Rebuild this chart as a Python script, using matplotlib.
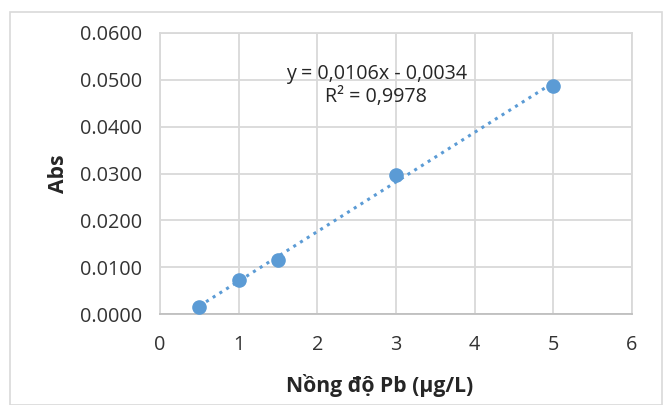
import numpy as np
import matplotlib
matplotlib.use("Agg")
import matplotlib.pyplot as plt
from matplotlib.patches import Rectangle

# Data
conc = [0.5, 1.0, 1.5, 3.0, 5.0]
absorb = [0.0014, 0.0073, 0.0115, 0.0297, 0.0487]
xticks = [0, 1, 2, 3, 4, 5, 6]
yticks = [0.0, 0.01, 0.02, 0.03, 0.04, 0.05, 0.06]
eq_text = "y = 0,0106x - 0,0034"
r2_text = "R² = 0,9978"
xlabel = "Nồng độ Pb (µg/L)"
ylabel = "Abs"

plt.rcParams['font.family'] = ['Open Sans', 'DejaVu Sans']
blue = '#5B9BD5'
grid = '#D9D9D9'

fig = plt.figure(figsize=(6.7, 4.05), dpi=100)
fig.patches.append(Rectangle((10/670, 0.0), 652/670, 1 - 12/405, transform=fig.transFigure,
                             fill=False, edgecolor=grid, linewidth=1.2))
ax = fig.add_axes([160/670, 1 - 314/405, 472/670, 281/405])

ax.set_xlim(0, 6)
ax.set_ylim(0, 0.06)
ax.set_xticks(xticks)
ax.set_yticks(yticks)
ax.set_xticklabels([str(t) for t in xticks])
ax.set_yticklabels([f"{t:.4f}" for t in yticks])
ax.grid(True, color=grid, linewidth=1.3)
ax.set_axisbelow(True)
for s in ax.spines.values():
    s.set_color(grid)
    s.set_linewidth(1.3)
ax.spines['bottom'].set_color('#BFBFBF')
ax.tick_params(length=0, labelsize=14.3, colors='#333333')
ax.tick_params(axis='y', pad=13)
ax.tick_params(axis='x', pad=15)

# trendline
coef = np.polyfit(conc, absorb, 1)
xl = np.array([min(conc), max(conc)])
ax.plot(xl, np.polyval(coef, xl), linestyle=(0, (1, 1.6)), color=blue, linewidth=2.2, zorder=2)
ax.plot(conc, absorb, 'o', color=blue, markersize=9.5, zorder=3)

ax.text(2.75, 0.0513, eq_text, ha='center', va='center', fontsize=14.2, color='#262626')
ax.text(2.75, 0.0464, r2_text, ha='center', va='center', fontsize=14.2, color='#262626')

ax.set_xlabel(xlabel, fontsize=15.2, fontweight='bold', color='#262626', labelpad=14)
ax.xaxis.label.set_x(0.466)
ax.set_ylabel(ylabel, fontsize=15.2, fontweight='bold', color='#262626', labelpad=8)

fig.savefig("out.png", dpi=100)
